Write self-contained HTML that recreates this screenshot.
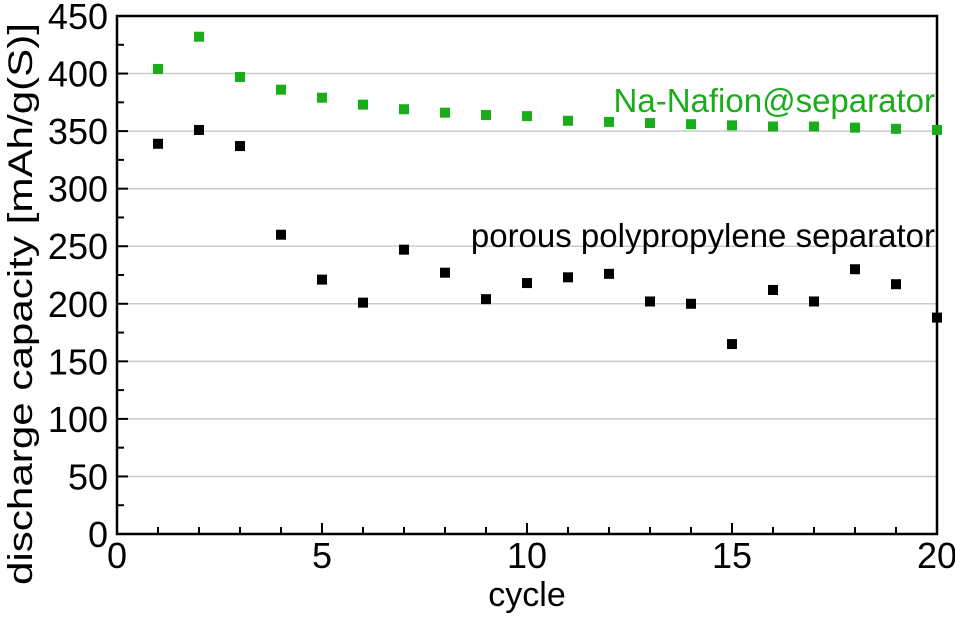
<!DOCTYPE html>
<html><head><meta charset="utf-8"><style>
body{margin:0;background:#fff}
text{font-family:"Liberation Sans",sans-serif}
</style></head><body>
<svg id="c" width="955" height="616" viewBox="0 0 955 616"></svg>
<script>
const cycles=[1,2,3,4,5,6,7,8,9,10,11,12,13,14,15,16,17,18,19,20];
const nafion=[404,432,397,386,379,373,369,366,364,363,359,358,357,356,355,354,354,353,352,351];
const porous=[339,351,337,260,221,201,247,227,204,218,223,226,202,200,165,212,202,230,217,188];
const xTicks=[0,5,10,15,20];
const yTicks=[0,50,100,150,200,250,300,350,400,450];
const L=117,R=937,T=16,B=534;
const xs=v=>L+(v-0)/20*(R-L);
const ys=v=>B-(v/450)*(B-T);
const svg=document.getElementById('c');
const NS='http://www.w3.org/2000/svg';
function mk(tag,attrs,parent){const e=document.createElementNS(NS,tag);for(const k in attrs)e.setAttribute(k,attrs[k]);(parent||svg).appendChild(e);return e;}
yTicks.forEach(v=>{if(v>0&&v<450){const g=mk('line',{x1:L,x2:R,y1:ys(v),y2:ys(v),stroke:'#c8cccc','stroke-width':1.5});

}});
const f=mk('rect',{x:L,y:T,width:R-L,height:B-T,fill:'none',stroke:'#000','stroke-width':2.5});


for(let v=0;v<=450;v+=25){const len=v%50===0?11:7;mk('line',{x1:L,x2:L+len,y1:ys(v),y2:ys(v),stroke:'#000','stroke-width':2});}
yTicks.forEach(v=>{const t=mk('text',{x:L-9,y:ys(v)+13,'text-anchor':'end','font-size':36});t.textContent=v;

});
for(let v=0;v<=20;v++){const len=v%5===0?11:7;mk('line',{x1:xs(v),x2:xs(v),y1:B,y2:B-len,stroke:'#000','stroke-width':2});}
xTicks.forEach(v=>{const t=mk('text',{x:xs(v),y:B+34,'text-anchor':'middle','font-size':36});t.textContent=v;

});
const xt=mk('text',{x:(L+R)/2,y:606,'text-anchor':'middle','font-size':34});xt.textContent='cycle';


const yt=mk('text',{x:0,y:0,'text-anchor':'middle','font-size':34,textLength:562,lengthAdjust:'spacingAndGlyphs',transform:'translate(32,304) rotate(-90)'});yt.textContent='discharge capacity [mAh/g(S)]';


cycles.forEach((c,i)=>{
 const a=mk('rect',{x:xs(c)-5,y:ys(nafion[i])-5,width:10,height:10,fill:'#1aad1a'});
 
 
 const b=mk('rect',{x:xs(c)-5,y:ys(porous[i])-5,width:10,height:10,fill:'#000'});
 
 
});
const l1=mk('text',{x:935,y:112,'text-anchor':'end','font-size':33,fill:'#1aad1a'});l1.textContent='Na-Nafion@separator';


const l2=mk('text',{x:935,y:247,'text-anchor':'end','font-size':33,fill:'#000'});l2.textContent='porous polypropylene separator';


</script>
</body></html>
